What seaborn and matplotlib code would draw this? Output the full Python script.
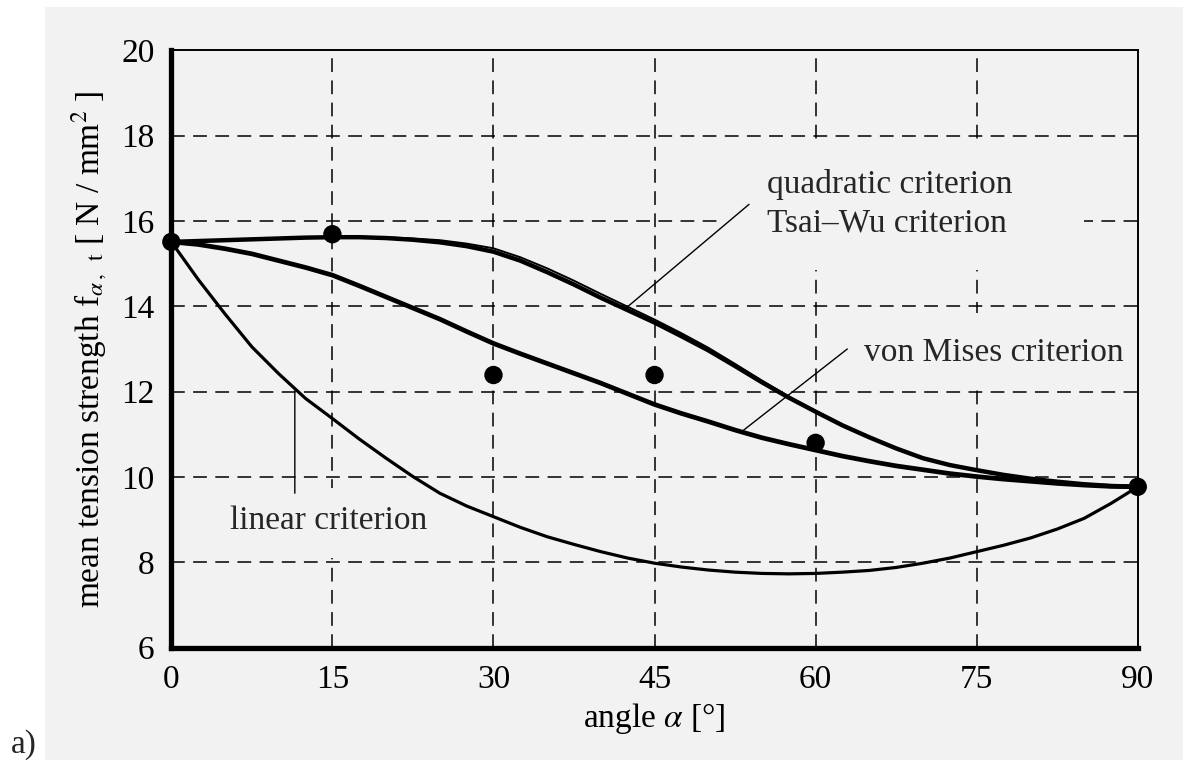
import numpy as np
import pandas as pd
import matplotlib
matplotlib.use("Agg")
import matplotlib.pyplot as plt
import seaborn as sns
from matplotlib.patches import Rectangle

# angle in degrees, values every 2.5 degrees
angle = [0, 2.5, 5, 7.5, 10, 12.5, 15, 17.5, 20, 22.5, 25, 27.5, 30, 32.5, 35, 37.5,
         40, 42.5, 45, 47.5, 50, 52.5, 55, 57.5, 60, 62.5, 65, 67.5, 70, 72.5, 75,
         77.5, 80, 82.5, 85, 87.5, 90]
quadratic = [15.51, 15.53, 15.55, 15.57, 15.59, 15.61, 15.62, 15.62, 15.60, 15.56,
             15.50, 15.41, 15.28, 15.07, 14.80, 14.51, 14.20, 13.91, 13.62, 13.30,
             12.97, 12.60, 12.22, 11.86, 11.53, 11.21, 10.93, 10.67, 10.44, 10.28,
             10.16, 10.05, 9.96, 9.89, 9.83, 9.79, 9.77]
tsai_wu = [15.51, 15.53, 15.56, 15.58, 15.60, 15.62, 15.63, 15.63, 15.62, 15.59,
           15.55, 15.47, 15.36, 15.15, 14.89, 14.60, 14.29, 13.99, 13.69, 13.37,
           13.03, 12.65, 12.26, 11.89, 11.55, 11.23, 10.94, 10.68, 10.45, 10.29,
           10.16, 10.05, 9.96, 9.89, 9.83, 9.79, 9.77]
von_mises = [15.51, 15.45, 15.35, 15.23, 15.07, 14.91, 14.73, 14.48, 14.22, 13.96,
             13.70, 13.41, 13.13, 12.89, 12.66, 12.43, 12.20, 11.95, 11.70, 11.49,
             11.30, 11.10, 10.92, 10.77, 10.63, 10.49, 10.37, 10.26, 10.17, 10.08,
             10.01, 9.95, 9.90, 9.85, 9.81, 9.78, 9.77]
linear = [15.51, 14.63, 13.82, 13.05, 12.42, 11.84, 11.37, 10.89, 10.44, 10.01,
          9.62, 9.32, 9.07, 8.82, 8.60, 8.42, 8.25, 8.10, 7.98, 7.89,
          7.82, 7.77, 7.74, 7.73, 7.74, 7.77, 7.81, 7.88, 7.98, 8.10,
          8.25, 8.40, 8.57, 8.78, 9.03, 9.38, 9.77]

# test results (mean values)
test_angle = [0, 15, 30, 45, 60, 90]
test_strength = [15.51, 15.69, 12.39, 12.39, 10.80, 9.77]

x_ticks = [0, 15, 30, 45, 60, 75, 90]
y_ticks = [6, 8, 10, 12, 14, 16, 18, 20]

curves = pd.DataFrame({"angle": angle, "quadratic": quadratic, "tsai_wu": tsai_wu,
                       "von_mises": von_mises, "linear": linear})
tests = pd.DataFrame({"angle": test_angle, "strength": test_strength})

sns.set_theme(style="white")
plt.rcParams["font.family"] = ["Liberation Serif", "DejaVu Serif"]
plt.rcParams["mathtext.fontset"] = "stix"

paper = "#f2f2f2"
fig = plt.figure(figsize=(11.94, 7.6), dpi=100, facecolor="white")
fig.patches.append(Rectangle((45 / 1194, 0), (1183 - 45) / 1194, 1 - 7 / 760,
                             transform=fig.transFigure, facecolor=paper,
                             edgecolor="none", zorder=-10))
ax = fig.add_axes([0.1435, 0.1478, 0.8094, 0.786])
ax.set_facecolor(paper)

# dashed grid, only inner lines
for xv in x_ticks[1:-1]:
    ax.axvline(xv, color="black", lw=1.1, ls=(0, (9, 5.5)), zorder=1)
for yv in y_ticks[1:-1]:
    ax.axhline(yv, color="black", lw=1.1, ls=(0, (9, 5.5)), zorder=1)

# blank areas behind the labels (grid is interrupted there)
for (x0, y0, w, h) in [(51.5, 14.85, 33.5, 3.0), (63.5, 12.15, 26.0, 1.7),
                       (5.0, 8.1, 19.5, 1.65)]:
    ax.add_patch(Rectangle((x0, y0), w, h, facecolor=paper, edgecolor="none", zorder=2))

sns.lineplot(data=curves, x="angle", y="linear", ax=ax, color="black", lw=2.3, zorder=3)
sns.lineplot(data=curves, x="angle", y="von_mises", ax=ax, color="black", lw=3.4, zorder=3)
sns.lineplot(data=curves, x="angle", y="tsai_wu", ax=ax, color="black", lw=1.4, zorder=3)
sns.lineplot(data=curves, x="angle", y="quadratic", ax=ax, color="black", lw=3.2, zorder=3)
sns.scatterplot(data=tests, x="angle", y="strength", ax=ax, color="black", s=175,
                edgecolor="none", zorder=5, clip_on=False)

ax.set_xlim(0, 90)
ax.set_ylim(6, 20)
ax.set_xticks(x_ticks)
ax.set_yticks(y_ticks)
ax.tick_params(length=0, labelsize=24, pad=12, colors="black")

for side in ["left", "bottom"]:
    ax.spines[side].set_linewidth(3.8)
for side in ["top", "right"]:
    ax.spines[side].set_linewidth(1.4)
for sp in ax.spines.values():
    sp.set_color("black")
    sp.set_zorder(6)

ax.set_xlabel(r"angle $\alpha$ [°]", fontsize=24, color="black")
ax.set_ylabel(r"mean tension strength f$_{\alpha\,,\;\;\mathrm{t}}$ [ N / mm$^{2}$ ]",
              fontsize=24, color="black")
ax.xaxis.set_label_coords(0.5, -0.09)
ax.yaxis.set_label_coords(-0.063, 0.5)

line = dict(arrowstyle="-", color="black", lw=1.0, shrinkA=0, shrinkB=0)
ax.text(55.5, 16.85, "quadratic criterion", fontsize=24, ha="left", va="center", zorder=4)
ax.text(55.5, 15.95, "Tsai–Wu criterion", fontsize=24, ha="left", va="center", zorder=4)
ax.text(64.5, 12.92, "von Mises criterion", fontsize=24, ha="left", va="center", zorder=4)
ax.text(5.5, 8.97, "linear criterion", fontsize=24, ha="left", va="center", zorder=4)
ax.annotate("", xy=(42.3, 13.95), xytext=(53.8, 16.39), arrowprops=line, zorder=4)
ax.annotate("", xy=(53.1, 11.06), xytext=(62.95, 13.0), arrowprops=line, zorder=4)
ax.annotate("", xy=(11.5, 12.02), xytext=(11.5, 9.62), arrowprops=line, zorder=4)

fig.text(24 / 1194, 1 - 745 / 760, "a)", fontsize=24, ha="center", va="center")

fig.savefig("out.png", dpi=100, facecolor="white")
